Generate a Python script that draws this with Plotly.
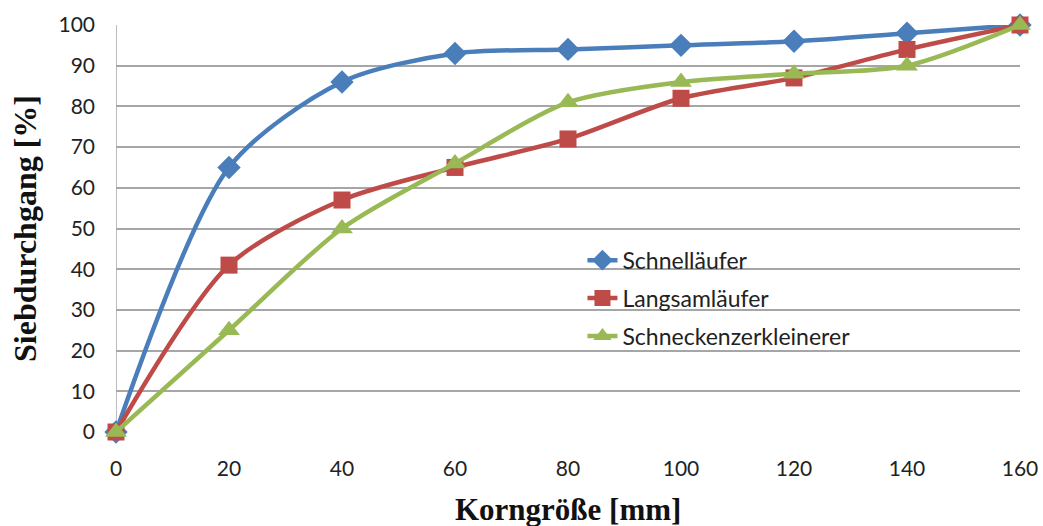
import plotly.graph_objects as go

korn = [0, 20, 40, 60, 80, 100, 120, 140, 160]
schnell = [0, 65, 86, 93, 94, 95, 96, 98, 100]
langsam = [0, 41, 57, 65, 72, 82, 87, 94, 100]
schnecke = [0, 25, 50, 66, 81, 86, 88, 90, 100]

series = [
    ("Schnelläufer", schnell, "#4A7EBB", "diamond", 18),
    ("Langsamläufer", langsam, "#BE4B48", "square", 17),
    ("Schneckenzerkleinerer", schnecke, "#98B954", "triangle-up", 19),
]

fig = go.Figure()
for i, (name, vals, col, sym, sz) in enumerate(series):
    fig.add_trace(go.Scatter(
        x=korn, y=vals, name=name, mode="lines+markers",
        line=dict(color=col, width=4.5, shape="spline", smoothing=0.8),
        marker=dict(symbol=sym, size=sz, color=col),
        cliponaxis=False, legendgroup=f"g{i}",
    ))

serif = "Liberation Serif, Times New Roman, serif"
fig.update_layout(
    width=1043, height=526,
    margin=dict(l=116, r=23, t=25, b=94),
    plot_bgcolor="white", paper_bgcolor="white",
    font=dict(family="Lato, Open Sans, sans-serif", size=21, color="#222"),
    showlegend=True,
    legend=dict(x=0.516, y=0.475, xanchor="left", yanchor="top",
                bgcolor="rgba(0,0,0,0)", font=dict(size=23, color="#222"),
                tracegroupgap=5),
    xaxis=dict(range=[0, 160], tickmode="array", tickvals=korn,
               showgrid=False, zeroline=False, showline=False, automargin=False,
               ticks="", ticklabelstandoff=22, tickfont=dict(size=21)),
    yaxis=dict(range=[0, 100], tickvals=list(range(0, 101, 10)),
               showgrid=True, gridcolor="#A6A6A6", gridwidth=1.5,
               zeroline=False, showline=False, ticks="", ticklabelstandoff=20,
               tickfont=dict(size=21), automargin=False,
               title=dict(text="<b>Siebdurchgang [%]</b>", standoff=12,
                          font=dict(family=serif, size=32, color="#111"))),
    annotations=[dict(text="<b>Korngröße [mm]</b>", xref="paper", yref="paper",
                      x=0.5, y=-0.19, xanchor="center", yanchor="middle",
                      showarrow=False, font=dict(family=serif, size=31, color="#111"))],
)
fig.add_shape(type="line", xref="x", yref="paper", x0=0, x1=0, y0=0, y1=1,
              line=dict(color="#A6A6A6", width=1.5), layer="below")

fig.write_html("out.html")
